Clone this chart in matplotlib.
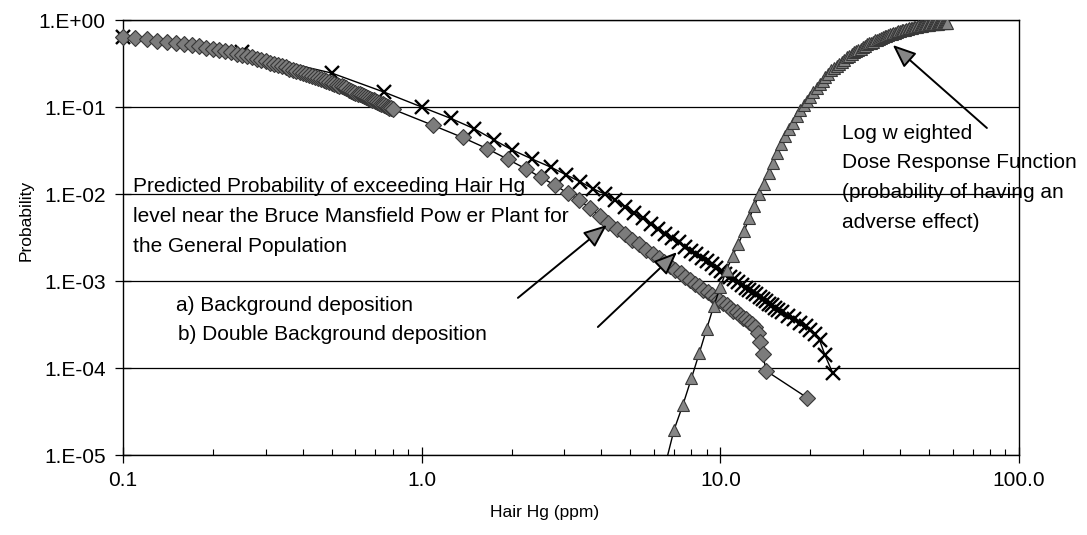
import numpy as np
import matplotlib.pyplot as plt
from matplotlib.ticker import FixedLocator, FixedFormatter, NullLocator, LogLocator

plt.rcParams['font.family'] = ['Liberation Sans', 'DejaVu Sans']

# a) background deposition: hair Hg (ppm) and log10 of exceedance probability
bg_x = [0.10, 0.11, 0.12, 0.13, 0.14, 0.15, 0.16, 0.17, 0.18, 0.19,
        0.20, 0.21, 0.22, 0.23, 0.24, 0.25, 0.26, 0.27, 0.28, 0.29,
        0.30, 0.31, 0.32, 0.33, 0.34, 0.35, 0.36, 0.37, 0.38, 0.39,
        0.40, 0.41, 0.42, 0.43, 0.44, 0.45, 0.46, 0.47, 0.48, 0.49,
        0.50, 0.51, 0.52, 0.53, 0.54, 0.55, 0.56, 0.57, 0.58, 0.59,
        0.60, 0.61, 0.62, 0.63, 0.64, 0.65, 0.66, 0.67, 0.68, 0.69,
        0.70, 0.71, 0.72, 0.73, 0.74, 0.75, 0.76, 0.77, 0.78, 0.79, 0.80,
        1.09, 1.37, 1.66, 1.94, 2.23, 2.51, 2.80, 3.08, 3.37, 3.65,
        3.94, 4.22, 4.51, 4.79, 5.08, 5.36, 5.65, 5.93, 6.22, 6.50,
        6.79, 7.07, 7.36, 7.64, 7.93, 8.21, 8.50, 8.78, 9.07, 9.35,
        9.64, 9.92, 10.21, 10.49, 10.78, 11.06, 11.35, 11.63, 11.92, 12.20,
        12.49, 12.77, 13.06, 13.34, 13.63, 13.91, 14.20, 19.5]
bg_log10p = [-0.195, -0.209, -0.223, -0.237, -0.251, -0.265, -0.278, -0.291, -0.304, -0.317,
             -0.330, -0.344, -0.358, -0.372, -0.386, -0.400, -0.415, -0.430, -0.445, -0.460,
             -0.475, -0.489, -0.503, -0.517, -0.531, -0.545, -0.558, -0.571, -0.584, -0.597,
             -0.610, -0.622, -0.634, -0.646, -0.658, -0.670, -0.680, -0.690, -0.700, -0.710,
             -0.720, -0.731, -0.742, -0.753, -0.764, -0.775, -0.787, -0.799, -0.811, -0.823,
             -0.835, -0.845, -0.855, -0.865, -0.875, -0.885, -0.895, -0.905, -0.915, -0.925,
             -0.935, -0.944, -0.953, -0.962, -0.971, -0.980, -0.989, -0.998, -1.007, -1.016, -1.025,
             -1.21, -1.35, -1.48, -1.60, -1.71, -1.81, -1.90, -1.99, -2.07, -2.16,
             -2.25, -2.33, -2.40, -2.46, -2.53, -2.58, -2.64, -2.69, -2.74, -2.78,
             -2.83, -2.87, -2.91, -2.95, -2.99, -3.03, -3.06, -3.10, -3.13, -3.16,
             -3.19, -3.22, -3.25, -3.28, -3.31, -3.34, -3.36, -3.39, -3.42, -3.44,
             -3.47, -3.49, -3.53, -3.60, -3.70, -3.84, -4.03, -4.34]

# b) double background deposition
dbl_x = [0.1, 0.25, 0.5, 0.75, 1.0, 1.25, 1.5, 1.75, 2.0,
         2.35, 2.70, 3.05, 3.40, 3.75, 4.10, 4.45, 4.80, 5.15, 5.50,
         5.85, 6.20, 6.55, 6.90, 7.25, 7.60, 7.95, 8.30, 8.65, 9.00,
         9.35, 9.70, 10.05, 10.40, 10.75, 11.10, 11.45, 11.80, 12.15, 12.50,
         12.85, 13.20, 13.55, 13.90, 14.25, 14.60, 14.95, 15.30, 15.65,
         16.1, 16.8, 17.6, 18.5, 19.3, 20.0, 20.8, 21.5, 22.4, 23.8]
dbl_log10p = [-0.195, -0.37, -0.61, -0.83, -1.00, -1.13, -1.25, -1.38, -1.49,
              -1.60, -1.69, -1.78, -1.86, -1.94, -2.00, -2.07, -2.145, -2.215, -2.28,
              -2.34, -2.40, -2.455, -2.51, -2.555, -2.605, -2.65, -2.69, -2.73, -2.77,
              -2.81, -2.85, -2.885, -2.92, -2.95, -2.98, -3.015, -3.045, -3.075, -3.10,
              -3.13, -3.155, -3.18, -3.21, -3.23, -3.26, -3.28, -3.305, -3.33,
              -3.36, -3.40, -3.44, -3.48, -3.52, -3.56, -3.61, -3.68, -3.85, -4.06]

# log weighted dose response function
dr_x = [6.5, 7.0, 7.5, 8.0, 8.5, 9.0, 9.5, 10.0, 10.5, 11.0,
        11.5, 12.0, 12.5, 13.0, 13.5, 14.0, 14.5, 15.0, 15.5, 16.0,
        16.5, 17.0, 17.5, 18.0, 18.5, 19.0, 19.5, 20.0, 20.5, 21.0,
        21.5, 22.0, 22.5, 23.0, 23.5, 24.0, 24.5, 25.0, 25.5, 26.0,
        26.5, 27.0, 27.5, 28.0, 28.5, 29.0, 29.5, 30.0, 30.5, 31.0,
        31.5, 32.0, 32.5, 33.0, 33.5, 34.0, 34.5, 35.0, 35.5, 36.0,
        36.5, 37.0, 37.5, 38.0, 38.5, 39.0, 39.5, 40.0, 40.5, 41.0,
        41.5, 42.0, 42.5, 43.0, 43.5, 44.0, 44.5, 45.0, 45.5, 46.0,
        46.5, 47.0, 47.5, 48.0, 48.5, 49.0, 49.5, 50.0, 50.5, 51.0,
        51.5, 52.0, 52.5, 53.0, 53.5, 54.0, 54.5, 55.0, 55.5, 56.0,
        56.5, 57.0, 57.5]
dr_log10p = [-5.15, -4.71, -4.42, -4.12, -3.83, -3.55, -3.29, -3.07, -2.87, -2.71,
             -2.57, -2.43, -2.28, -2.14, -2.00, -1.88, -1.76, -1.64, -1.53, -1.42,
             -1.33, -1.25, -1.18, -1.10, -1.03, -0.98, -0.93, -0.88, -0.83, -0.78,
             -0.74, -0.70, -0.66, -0.62, -0.58, -0.55, -0.525, -0.50, -0.48, -0.455,
             -0.43, -0.41, -0.39, -0.37, -0.36, -0.34, -0.33, -0.31, -0.295, -0.28,
             -0.27, -0.26, -0.25, -0.235, -0.225, -0.215, -0.205, -0.195, -0.188, -0.180,
             -0.173, -0.166, -0.159, -0.152, -0.145, -0.138, -0.131, -0.125, -0.120, -0.115,
             -0.111, -0.106, -0.102, -0.097, -0.092, -0.088, -0.084, -0.079, -0.075, -0.072,
             -0.070, -0.067, -0.065, -0.062, -0.060, -0.057, -0.055, -0.052, -0.050, -0.047,
             -0.045, -0.044, -0.043, -0.042, -0.041, -0.040, -0.039, -0.038, -0.037, -0.036,
             -0.035, -0.034, -0.033]

x_ticks = [0.1, 1.0, 10.0, 100.0]
x_tick_labels = ['0.1', '1.0', '10.0', '100.0']
y_ticks = [1e-5, 1e-4, 1e-3, 1e-2, 1e-1, 1.0]
y_tick_labels = ['1.E-05', '1.E-04', '1.E-03', '1.E-02', '1.E-01', '1.E+00']

bg_p = 10.0 ** np.array(bg_log10p)
dbl_p = 10.0 ** np.array(dbl_log10p)
dr_p = 10.0 ** np.array(dr_log10p)

fig = plt.figure(figsize=(10.87, 5.35), dpi=100)
ax = fig.add_axes([0.1132, 0.1495, 0.8242, 0.8131])
ax.set_xscale('log')
ax.set_yscale('log')
ax.set_xlim(0.1, 100)
ax.set_ylim(1e-5, 1)

ax.yaxis.grid(True, which='major', color='black', lw=0.9)
ax.set_axisbelow(True)

ax.plot(dbl_x, dbl_p, color='black', lw=1.0, marker='x', ms=9.5, mew=1.7,
        zorder=3, clip_on=False)
ax.plot(bg_x, bg_p, color='black', lw=1.0, marker='D', ms=8.5,
        mfc='#7c7c7c', mec='#383838', mew=0.8, zorder=4, clip_on=False)
ax.plot(dr_x, dr_p, color='black', lw=1.0, marker='^', ms=9,
        mfc='#868686', mec='#383838', mew=0.8, zorder=5)

# axes, ticks
ax.xaxis.set_major_locator(FixedLocator(x_ticks))
ax.xaxis.set_major_formatter(FixedFormatter(x_tick_labels))
ax.xaxis.set_minor_locator(LogLocator(base=10, subs=np.arange(2, 10)))
ax.yaxis.set_major_locator(FixedLocator(y_ticks))
ax.yaxis.set_major_formatter(FixedFormatter(y_tick_labels))
ax.yaxis.set_minor_locator(NullLocator())
ax.tick_params(which='major', direction='inout', length=11, width=0.9,
               labelsize=15, colors='black')
ax.tick_params(axis='y', pad=7)
ax.tick_params(axis='x', pad=6)
ax.tick_params(axis='x', which='minor', direction='in', length=4, width=0.8)
for s in ax.spines.values():
    s.set_linewidth(1.0)
    s.set_color('black')

ax.set_xlabel('Hair Hg (ppm)', fontsize=12.5, va='top')
ax.xaxis.set_label_coords(0.47, -0.115)
ax.set_ylabel('Probability', fontsize=12.5)
ax.yaxis.set_label_coords(-0.10, 0.54)

# annotation text blocks
left_lines = ['Predicted Probability of exceeding Hair Hg',
              'level near the Bruce Mansfield Pow er Plant for',
              'the General Population']
for i, s in enumerate(left_lines):
    ax.text(0.0112, 0.6184 - i * 0.0701, s, transform=ax.transAxes,
            fontsize=15, ha='left', va='center')
ax.text(0.0592, 0.3448, 'a) Background deposition', transform=ax.transAxes,
        fontsize=15, ha='left', va='center')
ax.text(0.0614, 0.2759, 'b) Double Background deposition', transform=ax.transAxes,
        fontsize=15, ha='left', va='center')

right_lines = ['Log w eighted', 'Dose Response Function',
               '(probability of having an', 'adverse effect)']
for i, s in enumerate(right_lines):
    ax.text(0.8025, 0.7402 - i * 0.0682, s, transform=ax.transAxes,
            fontsize=15, ha='left', va='center')

arrow = dict(arrowstyle='-|>,head_length=1.1,head_width=0.45', mutation_scale=13,
             fc='#868686', ec='black', lw=1.4, shrinkA=0, shrinkB=0)
ax.annotate('', xy=(4.17, 4.4e-3), xytext=(2.10, 6.4e-4), arrowprops=arrow, zorder=6)
ax.annotate('', xy=(7.16, 2.15e-3), xytext=(3.89, 2.96e-4), arrowprops=arrow, zorder=6)
ax.annotate('', xy=(37.8, 0.516), xytext=(78.1, 0.0574), arrowprops=arrow, zorder=6)

fig.savefig('out.png', dpi=100)
